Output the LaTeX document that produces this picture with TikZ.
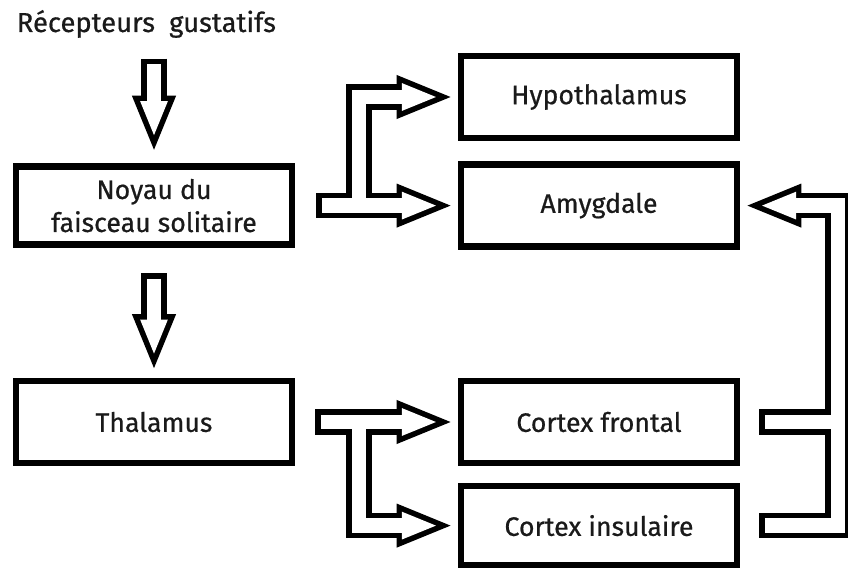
\documentclass[tikz,border=0pt]{standalone}
\usepackage{fontspec}
\setmainfont{Fira Sans}[FakeBold=0.6]
\usetikzlibrary{arrows.meta,calc}
\definecolor{texte}{HTML}{1A1A1A}
\tikzset{
  boite/.style={draw,line width=.1625cm,minimum width=6.9cm,minimum height=2.05cm,align=center,font=\fontsize{19}{23.5}\selectfont,text=texte,inner sep=0pt},
  titre/.style={font=\fontsize{19.5}{23}\selectfont,text=texte,inner sep=0pt,anchor=base},
  tuyau/.style={draw=\couleur,line width=\epais,shorten <=\debut},
  fleche/.style={tuyau,-{Triangle[length=\plong,width=\plarg,line width=0pt]},shorten >=#1+\recul},
  fleche/.default=.18cm,
  depart/.style={shorten <=#1+\debut},
}

\begin{document}
\begin{tikzpicture}
  \useasboundingbox (0,0) rectangle (21.2,14.25);
  \node[titre] (recep) at (3.66,13.45) {Récepteurs\hspace{.25em} gustatifs};
  \node[boite,minimum height=1.95cm] (noyau) at (3.85,9.11) {Noyau du\\faisceau solitaire};
  \node[boite] (thal) at (3.85,3.7) {Thalamus};
  \node[boite] (hypo) at (14.975,11.825) {Hypothalamus};
  \node[boite] (amyg) at (14.975,9.11) {Amygdale};
  \node[boite] (front) at (14.975,3.7) {Cortex frontal};
  \node[boite,minimum height=1.98cm] (insul) at (14.975,1.11) {Cortex insulaire};
  \coordinate (pivot) at (8.975,0);
  \coordinate (barre) at (20.95,0);
  % contour noir puis interieur blanc
  \foreach \couleur/\epais/\plong/\plarg/\recul/\debut in {black/.6375cm/1.35cm/1.105cm/0cm/0cm,white/.3625cm/.85cm/.694cm/.365cm/.1375cm}{
    \draw[fleche=.34cm,depart=.51cm] (recep.south -| noyau.north) -- (noyau.north);
    \draw[fleche=.24cm,depart=.63cm] (noyau.south) -- (thal.north);
    \draw[fleche,depart=.53cm] (noyau.east) -- (amyg.west);
    \draw[fleche] (pivot |- noyau.east) |- (hypo.west);
    \draw[fleche,depart=.505cm] (thal.east) -- (front.west);
    \draw[fleche] (pivot |- thal.east) |- (insul.west);
    \draw[fleche,depart=.48cm] (insul.east) -| (barre |- amyg.east) -- (amyg.east);
    \draw[tuyau,depart=.48cm] (front.east) -- (barre |- front.east);
  }
\end{tikzpicture}
\end{document}
